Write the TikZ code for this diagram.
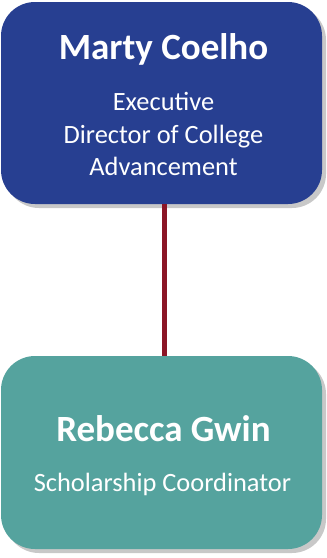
\documentclass[tikz,border=0pt]{standalone}
\usepackage{fontspec}
\setmainfont{Carlito}
\definecolor{topblue}{HTML}{273F91}
\definecolor{teal}{HTML}{55A39E}
\definecolor{linkred}{HTML}{8B1526}
\definecolor{shadowgray}{HTML}{C8C8C8}
\tikzset{
  x=1pt,y=1pt,
  card/.style={rounded corners=34pt, minimum width=321pt, inner sep=0pt},
  nametext/.style={font=\fontsize{37}{42}\selectfont\bfseries, text=white, anchor=base, inner sep=0pt},
  roletext/.style={font=\fontsize{26.4}{32}\selectfont, text=white, anchor=base, inner sep=0pt},
}
\begin{document}
\begin{tikzpicture}
\useasboundingbox (0,0) rectangle (327,-558);
% shadows
\fill[shadowgray, rounded corners=34pt] (5,-6) rectangle (326,-208);
\fill[shadowgray, rounded corners=34pt] (5,-360) rectangle (326,-553);
% boxes
\node[card, fill=topblue, minimum height=202pt] (top) at (161.5,-103) {};
\node[card, fill=teal, minimum height=193pt] (bot) at (161.5,-452.5) {};
\draw[linkred, line width=5.5pt] (top.south -| 164.5,0) -- (bot.north -| 164.5,0);
% texts
\node[nametext] (n1) at (163.5,-59.3) {Marty Coelho};
\node[roletext] (r1a) at (163.5,-110.7) {Executive};
\node[roletext] (r1b) at (163.5,-143.1) {Director of College};
\node[roletext] (r1c) at (163.5,-175.3) {Advancement};
\node[nametext] (n2) at (163.5,-441.7) {Rebecca Gwin};
\node[roletext] (r2) at (162.5,-491.7) {Scholarship Coordinator};
\end{tikzpicture}
\end{document}
